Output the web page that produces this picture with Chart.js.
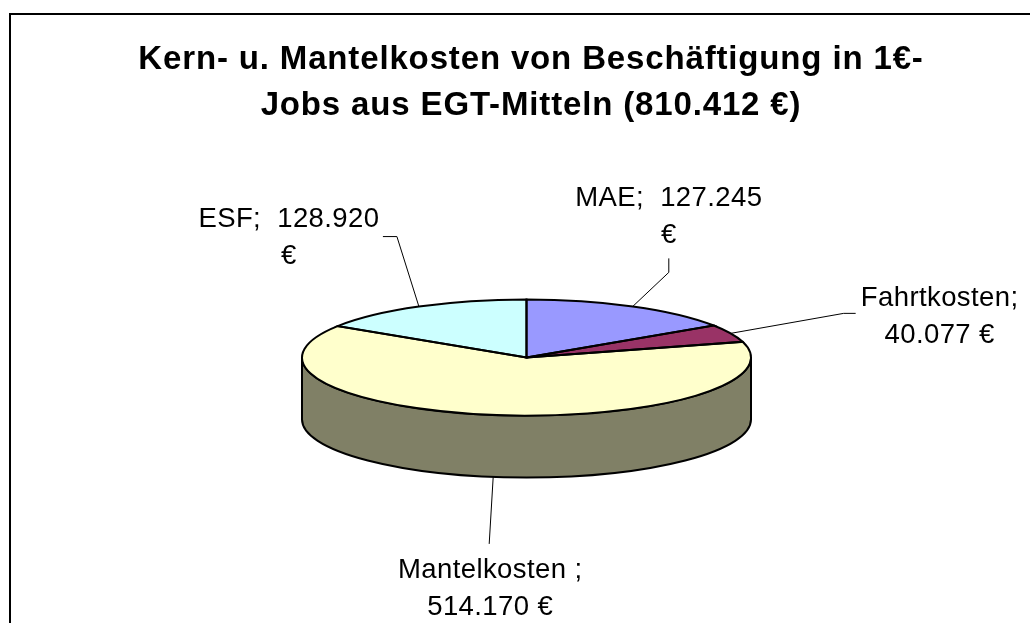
<!DOCTYPE html>
<html>
<head>
<meta charset="utf-8">
<script src="https://cdn.jsdelivr.net/npm/chart.js@4/dist/chart.umd.min.js"></script>
<style>
    body { margin: 0; background: #fff; overflow: hidden; }
    #frame { position: absolute; left: 9px; top: 13px; width: 1100px; height: 700px; border: 2px solid #000; }
    #myChart { position: absolute; left: 0; top: 0; }
</style>
</head>
<body>
<div id="frame"></div>
<canvas id="myChart" width="1030" height="623"></canvas>
<script>
var categories = ["MAE", "Fahrtkosten", "Mantelkosten ", "ESF"];
var values = [127245, 40077, 514170, 128920];
var topColors = ["#9999FF", "#993366", "#FFFFCC", "#CCFFFF"];
var sideColors = ["#4D4D80", "#4D1A33", "#808066", "#668080"];
var titleLines = ["Kern- u. Mantelkosten von Beschäftigung in 1€-", "Jobs aus EGT-Mitteln"];

var TILT = 0.2585;   // Höhe/Breite der Ellipse
var DEPTH = 62;      // Höhe der Seitenwand

// Beschriftung: Text-Offset, Knick der Führungslinie, Ende, Umbruchart
var labelLayout = [
    { dx: 36, dy: -108, kx: 36, ky: -34, ex: 36, ey: -48, wrap: 1 },
    { dx: 209, dy: -35, kx: 113, ky: -20, ex: 125, ey: -20, wrap: 0 },
    { dx: -3, dy: 94, kx: -4, ky: 67, ex: -4, ey: 67, wrap: 0 },
    { dx: -130, dy: -87, kx: -22, ky: -70, ex: -36, ey: -70, wrap: 1 }
];

function fmt(v) {
    return String(v).replace(/\B(?=(\d{3})+(?!\d))/g, ".");
}

var total = values.reduce(function (a, b) { return a + b; }, 0);

var pie3d = {
    id: "pie3d",
    beforeDatasetsDraw: function (chart) {
        var ctx = chart.ctx;
        var arcs = chart.getDatasetMeta(0).data;
        var cx = arcs[0].x, cy = arcs[0].y, r = arcs[0].outerRadius, ry = r * TILT;

        // Seitenwand (nur vordere Hälfte sichtbar)
        arcs.forEach(function (arc, i) {
            [[0, Math.PI], [2 * Math.PI, 3 * Math.PI], [-2 * Math.PI, -Math.PI]].forEach(function (rng) {
                var a = Math.max(arc.startAngle, rng[0]);
                var b = Math.min(arc.endAngle, rng[1]);
                if (b <= a) return;
                ctx.beginPath();
                ctx.ellipse(cx, cy, r, ry, 0, a, b, false);
                ctx.lineTo(cx + r * Math.cos(b), cy + ry * Math.sin(b) + DEPTH);
                ctx.ellipse(cx, cy + DEPTH, r, ry, 0, b, a, true);
                ctx.closePath();
                ctx.fillStyle = sideColors[i];
                ctx.fill();
                ctx.lineWidth = 2;
                ctx.strokeStyle = "#000";
                ctx.stroke();
            });
        });

        ctx.save();
        ctx.translate(cx, cy);
        ctx.scale(1, TILT);
        ctx.translate(-cx, -cy);
    },
    afterDatasetsDraw: function (chart) {
        var ctx = chart.ctx;
        ctx.restore();
        var arcs = chart.getDatasetMeta(0).data;
        var cx = arcs[0].x, cy = arcs[0].y, r = arcs[0].outerRadius, ry = r * TILT;

        // Umrisse der Oberseite
        ctx.lineWidth = 2;
        ctx.strokeStyle = "#000";
        arcs.forEach(function (arc) {
            ctx.beginPath();
            ctx.moveTo(cx, cy);
            ctx.ellipse(cx, cy, r, ry, 0, arc.startAngle, arc.endAngle, false);
            ctx.closePath();
            ctx.stroke();
        });

        // Datenbeschriftungen
        ctx.font = "27.5px 'Liberation Sans', Arial, sans-serif";
        ctx.letterSpacing = "0.4px";
        ctx.textAlign = "center";
        ctx.textBaseline = "middle";
        arcs.forEach(function (arc, i) {
            var mid = (arc.startAngle + arc.endAngle) / 2;
            var ax = cx + r * Math.cos(mid);
            var ay = cy + ry * Math.sin(mid) + (Math.sin(mid) > 0 ? DEPTH : 0);
            var L = labelLayout[i];

            ctx.beginPath();
            ctx.lineWidth = 1;
            ctx.moveTo(ax, ay);
            ctx.lineTo(ax + L.kx, ay + L.ky);
            ctx.lineTo(ax + L.ex, ay + L.ey);
            ctx.stroke();

            var lines = L.wrap
                ? [categories[i] + ";  " + fmt(values[i]), "€"]
                : [categories[i] + ";", fmt(values[i]) + " €"];
            ctx.fillStyle = "#000";
            ctx.fillText(lines[0], ax + L.dx, ay + L.dy);
            ctx.fillText(lines[1], ax + L.dx, ay + L.dy + 37);
        });

        // Titel
        ctx.font = "bold 33px 'Liberation Sans', Arial, sans-serif";
        ctx.letterSpacing = "0.85px";
        ctx.textBaseline = "alphabetic";
        ctx.fillText(titleLines[0], 531, 69);
        ctx.fillText(titleLines[1] + " (" + fmt(total) + " €)", 531, 115);
        ctx.letterSpacing = "0px";
    }
};

const ctx1 = document.getElementById("myChart");

new Chart(ctx1, {
    type: "pie",
    data: {
        labels: categories,
        datasets: [{
            data: values,
            backgroundColor: topColors,
            borderWidth: 0,
            radius: 224.5
        }]
    },
    options: {
        responsive: false,
        animation: false,
        layout: { padding: { left: 302, right: 279, top: 133, bottom: 41 } },
        plugins: {
            legend: { display: false },
            title: { display: false },
            tooltip: { enabled: false }
        }
    },
    plugins: [pie3d]
});
</script>
</body>
</html>
